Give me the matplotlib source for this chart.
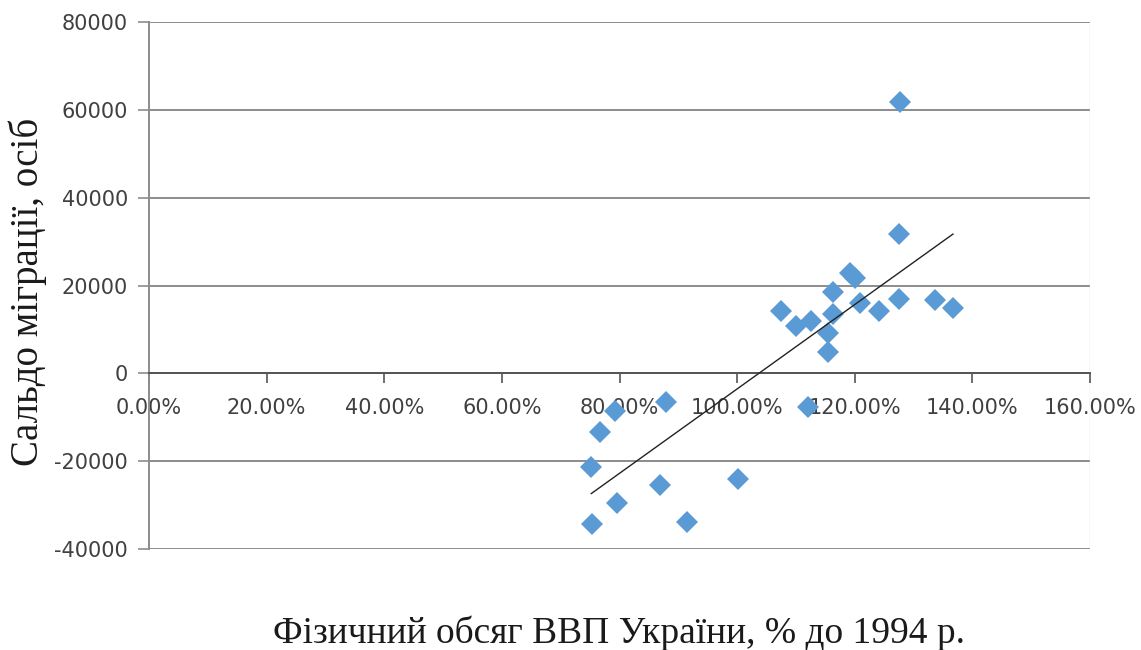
import numpy as np
import matplotlib
matplotlib.use("Agg")
import matplotlib.pyplot as plt

# GDP volume, % of 1994 level  vs  migration balance, persons
gdp = [127.7, 127.5, 119.2, 120.0, 116.3, 120.9, 127.5, 133.6, 136.7, 124.1,
       107.5, 110.0, 112.6, 116.3, 115.5, 115.5, 112.1, 87.9, 79.2, 76.7,
       75.2, 86.9, 100.1, 79.6, 75.3, 91.4]
migr = [61800, 31800, 22900, 21600, 18600, 16100, 17000, 16800, 14800, 14300,
        14300, 10700, 12000, 13600, 9100, 4800, -7700, -6600, -8600, -13400,
        -21300, -25500, -24100, -29500, -34300, -33900]

xticks = [0, 20, 40, 60, 80, 100, 120, 140, 160]
xtick_labels = ["0.00%", "20.00%", "40.00%", "60.00%", "80.00%", "100.00%",
                "120.00%", "140.00%", "160.00%"]
yticks = [-40000, -20000, 0, 20000, 40000, 60000, 80000]

x = np.array(gdp)
y = np.array(migr)
k, b = np.polyfit(x, y, 1)
xl = np.array([x.min(), x.max()])

fig = plt.figure(figsize=(11.41, 6.5), dpi=100)
ax = fig.add_axes([149/1141, 1-549/650, 941/1141, 527/650])

ax.set_xlim(0, 160)
ax.set_ylim(-40000, 80000)

for v in yticks:
    ax.axhline(v, color="#8c8c8c", lw=1.4, zorder=1)
ax.axvline(160, color="#dddddd", lw=1.0, zorder=1)

ax.plot(xl, k*xl + b, color="#222222", lw=1.0, zorder=3)
ax.plot(x, y, linestyle="none", marker="D", ms=11, mew=0,
        color="#5b9bd5", zorder=2)

for s in ["top", "right"]:
    ax.spines[s].set_visible(False)
ax.spines["bottom"].set_position(("data", 0))
ax.spines["bottom"].set_color("#555555")
ax.spines["bottom"].set_linewidth(1.4)
ax.spines["left"].set_color("#8c8c8c")
ax.spines["left"].set_linewidth(1.4)

ax.set_xticks(xticks)
ax.set_xticklabels(xtick_labels)
ax.set_yticks(yticks)
ax.set_yticklabels([str(v) for v in yticks])
ax.tick_params(axis="x", direction="out", length=7, width=1.2, color="#555555",
               pad=11, labelsize=15, labelcolor="#404040")
ax.tick_params(axis="y", direction="out", length=8, width=1.2, color="#8c8c8c",
               pad=7, labelsize=15, labelcolor="#404040")

fig.text(28/1141, 1-292/650, "Сальдо міграції, осіб", rotation=90,
         ha="center", va="center", fontsize=28, family="Liberation Serif",
         color="#1a1a1a")
fig.text(619/1141, 1-633/650, "Фізичний обсяг ВВП України, % до 1994 р.",
         ha="center", va="center", fontsize=27, family="Liberation Serif",
         color="#1a1a1a")

fig.savefig("out.png", dpi=100)
